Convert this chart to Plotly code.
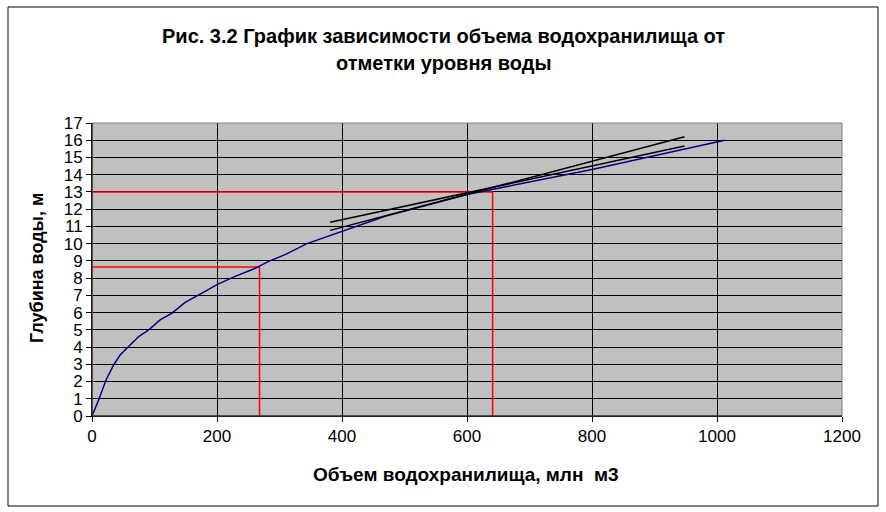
import plotly.graph_objects as go

# Data: volume (mln m3) vs depth (m)
volume = [0, 10.6, 22.4, 34.7, 45.3, 58.7, 74.7, 90.7, 109, 128, 149, 176, 200, 229,
          258.6, 282.6, 309, 344, 400, 469, 600, 800, 1012]
depth = [0, 0.93, 2.09, 2.97, 3.55, 4.03, 4.61, 5.0, 5.58, 5.97, 6.59, 7.13, 7.62, 8.1,
         8.53, 8.97, 9.36, 10.0, 10.72, 11.59, 12.85, 14.3, 16.0]

# Tangent lines (start/end points)
tan1_x = [381, 948]
tan1_y = [11.24, 15.66]
tan2_x = [381, 948]
tan2_y = [10.77, 16.2]

# Read-off points (red guide lines)
guide_v = [268, 641]
guide_h = [8.65, 13.0]

title_1 = "Рис. 3.2 График зависимости объема водохранилища от"
title_2 = "отметки уровня воды"
x_title = "Объем водохранилища, млн  м3"
y_title = "Глубина воды, м"

FONT = "Liberation Sans, Arial, sans-serif"

fig = go.Figure()

for v, h in zip(guide_v, guide_h):
    fig.add_trace(go.Scatter(x=[0, v, v], y=[h, h, 0], mode="lines",
                             line=dict(color="#FF0000", width=1.5), hoverinfo="skip"))

fig.add_trace(go.Scatter(x=volume, y=depth, mode="lines",
                         line=dict(color="#000080", width=1.5)))
fig.add_trace(go.Scatter(x=tan1_x, y=tan1_y, mode="lines",
                         line=dict(color="#000000", width=1.5)))
fig.add_trace(go.Scatter(x=tan2_x, y=tan2_y, mode="lines",
                         line=dict(color="#000000", width=1.5)))

L, R, T, B = 92, 44, 123, 96
W, H = 886, 512
pw = W - L - R
ph = H - T - B

def px(x):
    return (x - L) / pw

def py(y):
    return (H - B - y) / ph

def ann(text, x, y, size, angle=0):
    return dict(text="<b>" + text + "</b>", xref="paper", yref="paper",
                x=px(x), y=py(y), xanchor="center", yanchor="middle",
                showarrow=False, textangle=angle, font=dict(size=size))

fig.update_layout(
    width=W, height=H,
    margin=dict(l=L, r=R, t=T, b=B, pad=0),
    paper_bgcolor="white",
    plot_bgcolor="#C0C0C0",
    showlegend=False,
    font=dict(family=FONT, color="black", size=16),
    xaxis=dict(range=[0, 1200], tickvals=[0, 200, 400, 600, 800, 1000, 1200],
               showgrid=True, gridcolor="black", gridwidth=1,
               zeroline=False, showline=True, linecolor="black", linewidth=1,
               ticks="outside", ticklen=5, tickcolor="black",
               tickfont=dict(size=17, family=FONT)),
    yaxis=dict(range=[0, 17], dtick=1, tick0=0,
               showgrid=True, gridcolor="black", gridwidth=1,
               zeroline=False, showline=True, linecolor="black", linewidth=1,
               ticks="outside", ticklen=5, tickcolor="black",
               tickfont=dict(size=17, family=FONT)),
    shapes=[
        dict(type="rect", xref="paper", yref="paper", x0=0, x1=1, y0=0, y1=1,
             line=dict(color="#808080", width=1), layer="above"),
        dict(type="line", xref="paper", yref="paper", x0=0, x1=0, y0=0, y1=1,
             line=dict(color="black", width=1), layer="above"),
        dict(type="line", xref="paper", yref="paper", x0=0, x1=1, y0=0, y1=0,
             line=dict(color="black", width=1), layer="above"),
        dict(type="rect", xref="paper", yref="paper",
             x0=px(8), x1=px(878), y0=py(506), y1=py(7),
             line=dict(color="black", width=1)),
    ],
    annotations=[
        ann(title_1, 443, 36, 20),
        ann(title_2, 443, 63, 20),
        ann(x_title, 466, 474, 19),
        ann(y_title, 37, 268, 18, -90),
    ],
)

fig.write_html("out.html", config={"displayModeBar": False},
               post_script="document.body.style.margin='0';document.body.style.padding='0';")
